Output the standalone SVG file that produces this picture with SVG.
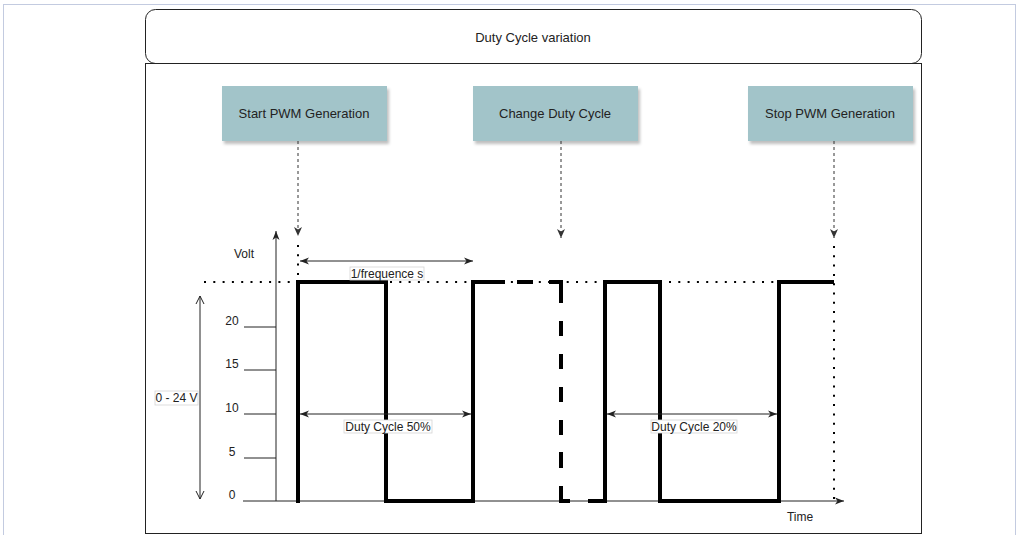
<svg xmlns="http://www.w3.org/2000/svg" width="1020" height="535" viewBox="0 0 1020 535">
<style>
text{font-family:"Liberation Sans",Arial,sans-serif;font-size:12px;fill:#222}
.c{text-anchor:middle}
.big{font-size:13px}
.box{fill:#a2c4c9;stroke:none}
.thin{stroke:#222;stroke-width:1;fill:none}
.wave{stroke:#000;stroke-width:4;fill:none;stroke-linejoin:miter;stroke-linecap:butt}
.dot{stroke:#000;stroke-width:2;fill:none;stroke-dasharray:2 7.3}
.conn{stroke:#333;stroke-width:1;fill:none;stroke-dasharray:3 3}
.lbl{fill:#fff;stroke:#d4d4d4;stroke-width:0.8}
</style>
<defs>
<filter id="sh" x="-10%" y="-10%" width="130%" height="140%">
<feDropShadow dx="2" dy="3" stdDeviation="1.8" flood-color="#000" flood-opacity="0.25"/>
</filter>
<marker id="cls" markerUnits="userSpaceOnUse" markerWidth="10" markerHeight="8" refX="9" refY="4" orient="auto-start-reverse" viewBox="0 0 10 8">
<path d="M0,0.5 L9,4 L0,7.5 L2.5,4 Z" fill="#222"/>
</marker>
<marker id="opn" markerUnits="userSpaceOnUse" markerWidth="10" markerHeight="10" refX="9" refY="5" orient="auto-start-reverse" viewBox="0 0 10 10">
<path d="M1,1 L9,5 L1,9" fill="none" stroke="#222" stroke-width="1"/>
</marker>
<marker id="dsh" markerUnits="userSpaceOnUse" markerWidth="10" markerHeight="9" refX="9" refY="4.5" orient="auto" viewBox="0 0 10 9">
<path d="M0,0.5 L9,4.5 L0,8.5 L2.5,4.5 Z" fill="#333"/>
</marker>
</defs>
<rect x="0" y="0" width="1020" height="535" fill="#fff"/>
<rect x="3.5" y="4.5" width="1012" height="545" fill="#fff" stroke="#c3cbe0" stroke-width="1"/>

<g id="title">
<rect x="145.5" y="9.5" width="776" height="54" rx="10" ry="10" fill="#fff" stroke="#222" stroke-width="1"/>
<text class="c big" x="533" y="41.5">Duty Cycle variation</text>
</g>
<g id="container">
<rect x="145.5" y="63.5" width="776" height="470" fill="#fff" stroke="#222" stroke-width="1"/>
</g>
<g id="start">
<rect class="box" x="222" y="86" width="165" height="55" filter="url(#sh)"/>
<text class="c big" x="304" y="118">Start PWM Generation</text>
</g>
<g id="change">
<rect class="box" x="473" y="86" width="165" height="55" filter="url(#sh)"/>
<text class="c big" x="555" y="118">Change Duty Cycle</text>
</g>
<g id="stop">
<rect class="box" x="748" y="86" width="165" height="55" filter="url(#sh)"/>
<text class="c big" x="830" y="118">Stop PWM Generation</text>
</g>

<g id="connectors">
<line class="conn" x1="298" y1="141" x2="298" y2="236" marker-end="url(#dsh)"/>
<line class="conn" x1="561" y1="141" x2="561" y2="238" marker-end="url(#dsh)"/>
<line class="conn" x1="834" y1="141" x2="834" y2="238" marker-end="url(#dsh)"/>
</g>

<g id="chart">
<line class="dot" x1="204" y1="282" x2="834" y2="282"/>
<line class="dot" x1="298" y1="245" x2="298" y2="280"/>
<line class="dot" x1="834" y1="246" x2="834" y2="500"/>
<line class="thin" x1="276" y1="501" x2="276" y2="231" marker-end="url(#cls)"/>
<line class="thin" x1="243" y1="501" x2="844" y2="501" marker-end="url(#cls)"/>
<line class="thin" x1="244" y1="327" x2="276" y2="327"/>
<line class="thin" x1="244" y1="370" x2="276" y2="370"/>
<line class="thin" x1="244" y1="414" x2="276" y2="414"/>
<line class="thin" x1="244" y1="458" x2="276" y2="458"/>
<text class="c" x="232" y="325">20</text>
<text class="c" x="232" y="368">15</text>
<text class="c" x="232" y="412">10</text>
<text class="c" x="232" y="456">5</text>
<text class="c" x="232" y="499">0</text>
<text class="c" x="244" y="258">Volt</text>
<text class="c" x="800" y="521">Time</text>
<line class="thin" x1="200" y1="296" x2="200" y2="499" marker-start="url(#opn)" marker-end="url(#opn)"/>
<rect class="lbl" x="155" y="391" width="43" height="14"/>
<text class="c" x="176.5" y="402">0 - 24 V</text>
<path class="wave" d="M298,503 V282 H386 V501 H473 V282 H505"/>
<path class="wave" d="M517,282 H533 M549,282 H561 V303 M561,321 V336 M561,354 V369 M561,387 V402 M561,420 V435 M561,452 V468 M561,486 V501 H570 M588,501 H603"/>
<path class="wave" d="M603,501 H605 V282 H660 V501 H779 V282 H834"/>
<line class="thin" x1="300" y1="261" x2="473" y2="261" marker-start="url(#cls)" marker-end="url(#cls)"/>
<rect class="lbl" x="350" y="267" width="74" height="13"/>
<text class="c" x="387" y="277.5">1/frequence s</text>
<line class="thin" x1="300" y1="414" x2="471" y2="414" marker-start="url(#cls)" marker-end="url(#cls)"/>
<rect class="lbl" x="344" y="420" width="88" height="13"/>
<text class="c" x="388" y="430.5">Duty Cycle 50%</text>
<line class="thin" x1="607" y1="414" x2="777" y2="414" marker-start="url(#cls)" marker-end="url(#cls)"/>
<rect class="lbl" x="651" y="420" width="86" height="13"/>
<text class="c" x="694" y="430.5">Duty Cycle 20%</text>
</g>
</svg>
